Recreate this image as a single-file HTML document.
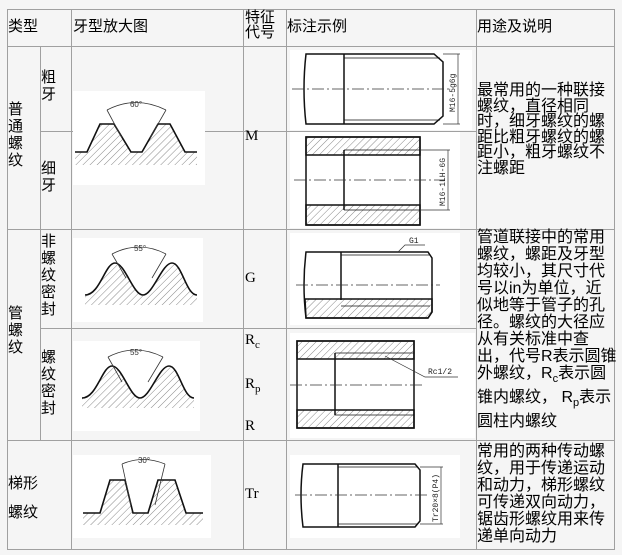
<!DOCTYPE html>
<html><head><meta charset="utf-8"><style>
body{margin:0;background:#f5f5f5;width:622px;height:555px;overflow:hidden;position:relative;font-family:"Liberation Sans","Noto Sans CJK SC","WenQuanYi Zen Hei",sans-serif;color:#000}
.t{position:absolute;font-size:15px;line-height:16px;white-space:nowrap}
.v{position:absolute;font-size:15px;line-height:17px;width:16px;white-space:normal;word-break:break-all}
.s{font-family:"Liberation Serif",serif;font-size:15px;position:absolute}
sub{font-size:11px}
svg{position:absolute;left:0;top:0}
</style></head><body>
<svg width="622" height="555" viewBox="0 0 622 555">
<defs>
<pattern id="h" width="5" height="5" patternUnits="userSpaceOnUse" patternTransform="rotate(45)"><line x1="0" y1="0" x2="0" y2="5" stroke="#555" stroke-width="0.7"/></pattern>
</defs>
<g stroke="#a0a0a0" stroke-width="1" fill="none">
<rect x="7.5" y="9.5" width="607" height="540"/>
<line x1="7" y1="46.5" x2="615" y2="46.5"/>
<line x1="40" y1="131.5" x2="476" y2="131.5"/>
<line x1="7" y1="229.5" x2="615" y2="229.5"/>
<line x1="40" y1="328.5" x2="476" y2="328.5"/>
<line x1="7" y1="440.5" x2="615" y2="440.5"/>
<line x1="40.5" y1="46" x2="40.5" y2="440"/>
<line x1="71.5" y1="9" x2="71.5" y2="550"/>
<line x1="243.5" y1="9" x2="243.5" y2="550"/>
<line x1="286.5" y1="9" x2="286.5" y2="550"/>
<line x1="476.5" y1="9" x2="476.5" y2="550"/>
</g>
<!-- white image boxes -->
<g fill="#fff">
<rect x="73" y="91" width="132" height="94"/>
<rect x="73" y="238" width="130" height="84"/>
<rect x="73" y="341" width="127" height="90"/>
<rect x="73" y="455" width="138" height="83"/>
<rect x="290" y="50" width="182" height="80"/>
<rect x="290" y="132" width="170" height="96"/>
<rect x="290" y="233" width="170" height="92"/>
<rect x="290" y="333" width="185" height="105"/>
<rect x="290" y="455" width="170" height="83"/>
</g>
<!-- thread profiles -->
<g stroke="#111" stroke-width="1.6" fill="url(#h)">
<path d="M75,152 L87,152 L100,124 L114,124 L131,152 L142,152 L158,124 L170,124 L185,152 L197,152 L197,165 L75,165Z" stroke="none"/>
<path d="M75,152 L87,152 L100,124 L114,124 L131,152 L142,152 L158,124 L170,124 L185,152 L197,152" fill="none"/>
<path d="M85,295 C100,295 105,263 115,263 C125,263 133,295 143,295 C153,295 162,263 172,263 C182,263 186,295 197,295 L197,305 L85,305Z" stroke="none"/>
<path d="M85,295 C100,295 105,263 115,263 C125,263 133,295 143,295 C153,295 162,263 172,263 C182,263 186,295 197,295" fill="none"/>
<path d="M82,398 C97,398 102,366 112,366 C122,366 130,398 140,398 C150,398 159,366 169,366 C179,366 183,398 194,398 L194,408 L82,408Z" stroke="none"/>
<path d="M82,398 C97,398 102,366 112,366 C122,366 130,398 140,398 C150,398 159,366 169,366 C179,366 183,398 194,398" fill="none"/>
<path d="M83,513 L100,513 L110,480 L125,480 L133,513 L148,513 L158,480 L175,480 L186,513 L203,513 L203,525 L83,525Z" stroke="none"/>
<path d="M83,513 L100,513 L110,480 L125,480 L133,513 L148,513 L158,480 L175,480 L186,513 L203,513" fill="none"/>
</g>
<g stroke="#333" stroke-width="0.8" fill="none">
<line x1="107" y1="110" x2="122" y2="138"/><line x1="166" y1="110" x2="150" y2="138"/>
<path d="M107,110 Q136,95 166,110"/>
<line x1="112" y1="254" x2="126" y2="278"/><line x1="166" y1="254" x2="152" y2="278"/>
<path d="M112,254 Q139,240 166,254"/>
<line x1="108" y1="357" x2="122" y2="382"/><line x1="163" y1="357" x2="148" y2="382"/>
<path d="M108,357 Q135,343 163,357"/>
<line x1="122" y1="464" x2="131" y2="505"/><line x1="165" y1="464" x2="155" y2="505"/>
<path d="M122,464 Q143,455 165,464"/>
</g>
<g font-family="Liberation Sans" font-size="8" fill="#333" text-anchor="middle">
<text x="136" y="107">60°</text><text x="140" y="251">55°</text><text x="136" y="355">55°</text><text x="144" y="463">30°</text>
</g>
<!-- annotation drawings -->
<g stroke="#111" stroke-width="1.5" fill="none">
<path d="M306,54 L434,54 L443,62 L443,116 L434,124 L306,124 Q302,89 306,54Z"/>
<line x1="344" y1="54" x2="344" y2="124"/>
<line x1="344" y1="58" x2="440" y2="58" stroke-width="0.8"/><line x1="344" y1="120" x2="440" y2="120" stroke-width="0.8"/>
<rect x="306" y="137" width="114" height="88"/>
<rect x="306" y="137" width="114" height="18" fill="url(#h)"/>
<rect x="306" y="205" width="114" height="20" fill="url(#h)"/>
<line x1="344" y1="150" x2="344" y2="210"/>
<line x1="344" y1="150" x2="420" y2="150" stroke-width="0.8"/><line x1="344" y1="210" x2="420" y2="210" stroke-width="0.8"/>
<path d="M306,252 L428,252 L432,258 L432,312 L428,318 L306,318 Q302,285 306,252Z"/>
<line x1="341" y1="252" x2="341" y2="300"/>
<path d="M305,299 L432,299 L432,312 L428,318 L306,318Z" fill="url(#h)"/>
<line x1="341" y1="255" x2="430" y2="255" stroke-width="0.8"/><line x1="341" y1="306" x2="430" y2="306" stroke-width="0.8"/>
<rect x="297" y="341" width="117" height="87"/>
<rect x="297" y="341" width="117" height="18" fill="url(#h)"/>
<rect x="297" y="410" width="117" height="18" fill="url(#h)"/>
<line x1="335" y1="353" x2="335" y2="415"/>
<line x1="335" y1="353" x2="414" y2="353" stroke-width="0.8"/><line x1="335" y1="415" x2="414" y2="415" stroke-width="0.8"/>
<path d="M303,464 L415,464 L420,470 L420,521 L415,527 L303,527 Q299,495 303,464Z"/>
<line x1="338" y1="464" x2="338" y2="527"/>
<line x1="338" y1="467" x2="418" y2="467" stroke-width="0.8"/><line x1="338" y1="524" x2="418" y2="524" stroke-width="0.8"/>
</g>
<g stroke="#333" stroke-width="0.7" fill="none" stroke-dasharray="12,3,2,3">
<line x1="292" y1="89" x2="452" y2="89"/>
<line x1="294" y1="180" x2="445" y2="180"/>
<line x1="296" y1="285" x2="440" y2="285"/>
<line x1="290" y1="385" x2="425" y2="385"/>
<line x1="295" y1="495" x2="430" y2="495"/>
</g>
<g stroke="#333" stroke-width="0.7" fill="none">
<line x1="458" y1="54" x2="458" y2="124"/><line x1="443" y1="54" x2="460" y2="54"/><line x1="443" y1="124" x2="460" y2="124"/>
<line x1="448" y1="150" x2="448" y2="210"/><line x1="420" y1="150" x2="450" y2="150"/><line x1="420" y1="210" x2="450" y2="210"/>
<path d="M398,252 L405,245 L425,245"/>
<path d="M385,356 L425,377 L458,377"/>
<line x1="441" y1="467" x2="441" y2="524"/><line x1="420" y1="467" x2="443" y2="467"/><line x1="420" y1="524" x2="443" y2="524"/>
</g>
<g font-family="Liberation Mono" font-size="8" fill="#222">
<text transform="translate(455,112) rotate(-90)">M16-5g6g</text>
<text transform="translate(445,206) rotate(-90)">M16-1LH-6G</text>
<text x="409" y="243">G1</text>
<text x="428" y="374">Rc1/2</text>
<text transform="translate(438,522) rotate(-90)">Tr20×8(P4)</text>
</g>
</svg>
<div class="t" style="left:8px;top:19px">类型</div>
<div class="t" style="left:73px;top:19px">牙型放大图</div>
<div class="t" style="left:245px;top:10px;line-height:15px">特征<br>代号</div>
<div class="t" style="left:287px;top:19px">标注示例</div>
<div class="t" style="left:477px;top:19px">用途及说明</div>
<div class="v" style="left:8px;top:101px">普通螺纹</div>
<div class="v" style="left:41px;top:69px">粗牙</div>
<div class="v" style="left:41px;top:160px">细牙</div>
<div class="v" style="left:8px;top:305px">管螺纹</div>
<div class="v" style="left:41px;top:233px">非螺纹密封</div>
<div class="v" style="left:41px;top:349px">螺纹密封</div>
<div class="t" style="left:8px;top:476px">梯形</div>
<div class="t" style="left:8px;top:505px">螺纹</div>
<div class="s" style="left:245px;top:128px">M</div>
<div class="s" style="left:245px;top:270px">G</div>
<div class="s" style="left:245px;top:332px">R<sub>c</sub></div>
<div class="s" style="left:245px;top:376px">R<sub>p</sub></div>
<div class="s" style="left:245px;top:418px">R</div>
<div class="s" style="left:245px;top:486px">Tr</div>
<div class="t" style="left:477px;top:83px;line-height:15.5px;font-size:16px">最常用的一种联接<br>螺纹，直径相同<br>时，细牙螺纹的螺<br>距比粗牙螺纹的螺<br>距小，粗牙螺纹不<br>注螺距</div>
<div class="t" style="left:477px;top:229px;line-height:17px;font-size:16px">管道联接中的常用<br>螺纹，螺距及牙型<br>均较小，其尺寸代<br>号以in为单位，近<br>似地等于管子的孔<br>径。螺纹的大径应<br>从有关标准中查<br>出，代号R表示圆锥<br>外螺纹，R<sub>c</sub>表示圆<br><span style="line-height:20px">锥内螺纹， R<sub>p</sub>表示</span><br>圆柱内螺纹</div>
<div class="t" style="left:477px;top:443px;line-height:17px;font-size:16px">常用的两种传动螺<br>纹，用于传递运动<br>和动力，梯形螺纹<br>可传递双向动力，<br>锯齿形螺纹用来传<br>递单向动力</div>
</body></html>
